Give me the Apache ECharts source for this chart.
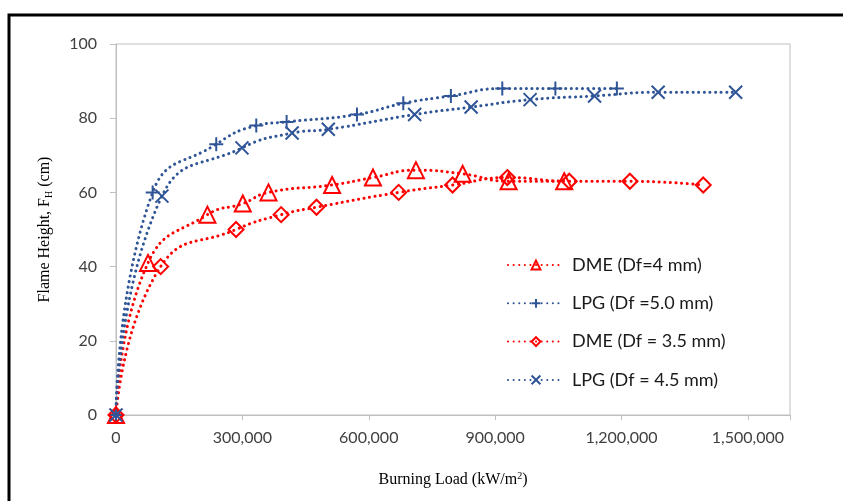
<!DOCTYPE html>
<html>
<head>
<meta charset="utf-8">
<script src="https://cdn.jsdelivr.net/npm/echarts@6/dist/echarts.min.js"></script>
<style>
html,body{margin:0;padding:0;background:#fff;}
#chart{width:843px;height:501px;}
</style>
</head>
<body>
<div id="chart"></div>
<script>
// ---- data ----
const seriesNames = ['DME (Df=4 mm)', 'LPG (Df =5.0 mm)', 'DME (Df = 3.5 mm)', 'LPG (Df = 4.5 mm)'];
const dme4X  = [0, 76000, 217000, 301000, 362000, 513000, 610000, 712000, 823000, 932000, 1064000];
const dme4Y  = [0, 41, 54, 57, 60, 62, 64, 66, 65, 63, 63];
const lpg50X = [0, 87000, 238000, 333000, 405000, 572000, 682000, 795000, 917000, 1043000, 1189000];
const lpg50Y = [0, 60, 73, 78, 79, 81, 84, 86, 88, 88, 88];
const dme35X = [0, 106000, 285000, 392000, 476000, 671000, 799000, 929000, 1076000, 1220000, 1394000];
const dme35Y = [0, 40, 50, 54, 56, 60, 62, 64, 63, 63, 62];
const lpg45X = [0, 109000, 299000, 418000, 504000, 709000, 843000, 983000, 1136000, 1287000, 1471000];
const lpg45Y = [0, 59, 72, 76, 77, 81, 83, 85, 86, 87, 87];
const xTickValues = [0, 300000, 600000, 900000, 1200000, 1500000];
const yTickValues = [0, 20, 40, 60, 80, 100];

const pair = (xs, ys) => xs.map((x, i) => [x, ys[i]]);
const RED = '#FF0000', BLUE = '#2F5597';
const PLUS = 'path://M0,5L10,5M5,0L5,10';
const CROSS = 'path://M0,0L10,10M10,0L0,10';

function mk(name, data, color, symbol, size) {
  return {
    name, type: 'line', data, smooth: 0.5,
    symbol, symbolSize: size,
    itemStyle: { color: 'rgba(0,0,0,0)', borderColor: color, borderWidth: 2 },
    lineStyle: { color, width: 3, type: [0.1, 5.5], cap: 'round' },
    emphasis: { disabled: true },
    z: 3
  };
}

const chart = echarts.init(document.getElementById('chart'), null, { renderer: 'canvas' });
chart.setOption({
  animation: false,
  backgroundColor: '#fff',
  grid: { left: 116, right: 53, top: 44, bottom: 86, show: true, borderColor: '#BFBFBF', borderWidth: 1 },
  xAxis: {
    type: 'value', min: 0, max: 1600000, interval: 300000,
    name: 'Burning Load (kW/m{sup|2})',
    nameLocation: 'middle', nameGap: 56,
    nameTextStyle: { fontFamily: 'Liberation Serif', fontSize: 16, color: '#000',
      rich: { sup: { fontFamily: 'Liberation Serif', fontSize: 10, verticalAlign: 'top', padding: [0,0,8,0], color: '#000' } } },
    axisLine: { lineStyle: { color: '#BFBFBF', width: 1 } },
    axisTick: { show: true, length: 5, lineStyle: { color: '#BFBFBF' } },
    splitLine: { show: false },
    axisLabel: {
      fontFamily: 'Lato', fontSize: 16, color: '#404040', margin: 15,
      formatter: v => xTickValues.includes(v) ? v.toLocaleString('en-US') : ''
    }
  },
  yAxis: {
    type: 'value', min: 0, max: 100, interval: 20,
    name: 'Flame Height, F{sub|H} (cm)',
    nameLocation: 'middle', nameGap: 62,
    nameTextStyle: { fontFamily: 'Liberation Serif', fontSize: 16, color: '#000',
      rich: { sub: { fontFamily: 'Liberation Serif', fontSize: 10, verticalAlign: 'bottom', padding: [8,0,0,0], color: '#000' } } },
    axisLine: { show: true, lineStyle: { color: '#BFBFBF', width: 1 } },
    axisTick: { show: true, length: 6, lineStyle: { color: '#BFBFBF' } },
    splitLine: { show: false },
    axisLabel: { fontFamily: 'Lato', fontSize: 16, color: '#404040', margin: 19,
      formatter: v => yTickValues.includes(v) ? String(v) : '' }
  },
  legend: {
    orient: 'vertical', left: 502, top: 251,
    itemWidth: 56, itemHeight: 11, itemGap: 20.3,
    textStyle: { fontFamily: 'Lato', fontSize: 18, color: '#1a1a1a', padding: [0,0,0,3] },
    data: seriesNames
  },
  graphic: [{
    type: 'rect', silent: true, z: 100,
    shape: { x: 9, y: 15, width: 900, height: 600 },
    style: { fill: 'none', stroke: '#000', lineWidth: 3 }
  }],
  series: [
    mk(seriesNames[0], pair(dme4X, dme4Y), RED, 'triangle', 16),
    mk(seriesNames[1], pair(lpg50X, lpg50Y), BLUE, PLUS, 14),
    mk(seriesNames[2], pair(dme35X, dme35Y), RED, 'diamond', 15),
    mk(seriesNames[3], pair(lpg45X, lpg45Y), BLUE, CROSS, 13)
  ]
});
</script>
</body>
</html>
